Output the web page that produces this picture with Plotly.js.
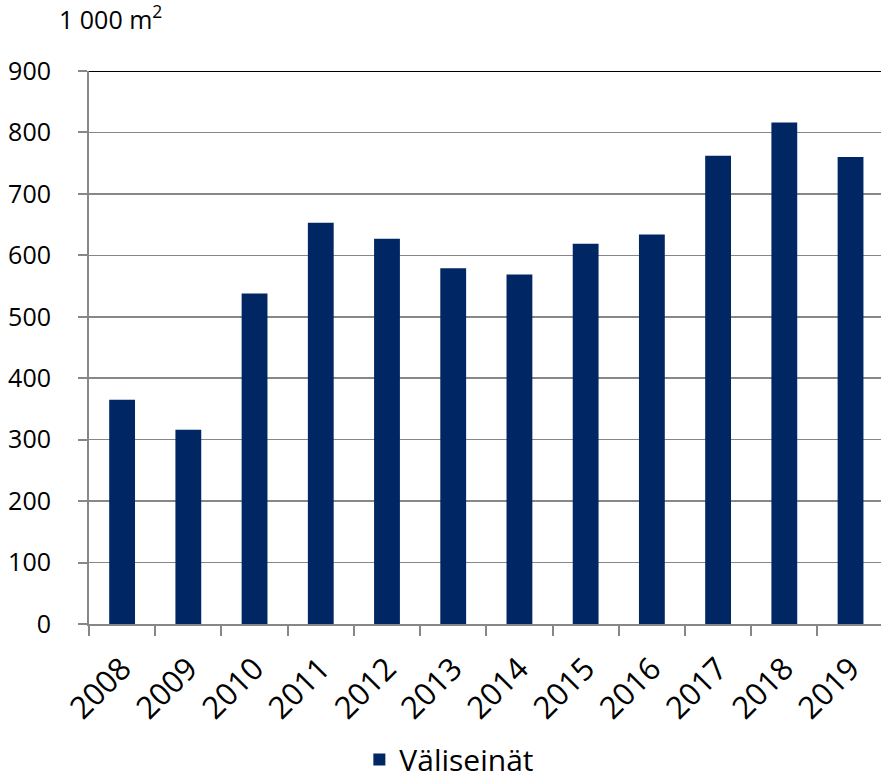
<!DOCTYPE html>
<html>
<head>
<meta charset="utf-8">
<script src="https://cdn.plot.ly/plotly-3.0.1.min.js"></script>
<style>html,body{margin:0;padding:0;background:#fff;}#chart{width:881px;height:779px;}</style>
</head>
<body>
<div id="chart"></div>
<script>
const years = ["2008","2009","2010","2011","2012","2013","2014","2015","2016","2017","2018","2019"];
const values = [365, 316, 538, 653, 627, 579, 569, 619, 634, 762, 816, 760];
const seriesName = "Väliseinät";
const yTicks = [0,100,200,300,400,500,600,700,800,900];

const gray = "#878787";
const font = "'Open Sans', Lato, sans-serif";

const data = [{
  type: "bar",
  x: years,
  y: values,
  name: seriesName,
  marker: {color: "#002664"},
  width: 0.39,
  showlegend: true
}];

const layout = {
  width: 881, height: 779,
  margin: {l: 89, r: 0, t: 71, b: 155, autoexpand: false},
  paper_bgcolor: "#fff", plot_bgcolor: "#fff",
  font: {family: font, size: 25, color: "#000"},
  xaxis: {
    type: "category",
    range: [-0.5, 11.46],
    automargin: false,
    tickson: "boundaries",
    ticks: "outside", ticklen: 10, tickwidth: 2, tickcolor: gray,
    showgrid: false,
    showline: true, linecolor: gray, linewidth: 2,
    tickangle: -45,
    ticklabelstandoff: 12,
    tickfont: {family: font, size: 31, color: "#000"},
    fixedrange: true
  },
  yaxis: {
    range: [0, 900],
    automargin: false,
    tickvals: yTicks,
    ticktext: yTicks.map(String),
    ticks: "outside", ticklen: 9, tickwidth: 2, tickcolor: gray,
    showgrid: true, gridcolor: gray, gridwidth: 1.6,
    zeroline: false,
    showline: true, linecolor: gray, linewidth: 2,
    ticklabelstandoff: 22,
    tickfont: {family: font, size: 25, color: "#000"},
    fixedrange: true
  },
  shapes: [{
    type: "line", xref: "paper", yref: "y",
    x0: 0, x1: 1, y0: 900, y1: 900,
    line: {color: "#000", width: 2}
  }],
  annotations: [{
    text: "1 000 m<sup>2</sup>",
    xref: "paper", yref: "paper",
    x: -0.04, y: 1.06, xanchor: "left", yanchor: "bottom",
    showarrow: false,
    font: {family: font, size: 25, color: "#000"}
  }],
  legend: {
    orientation: "h",
    x: 0.455, xanchor: "center",
    y: -0.245, yanchor: "middle",
    font: {family: font, size: 30, color: "#000"},
    bgcolor: "rgba(0,0,0,0)"
  }
};

Plotly.newPlot("chart", data, layout, {displayModeBar: false, staticPlot: true});
</script>
</body>
</html>
